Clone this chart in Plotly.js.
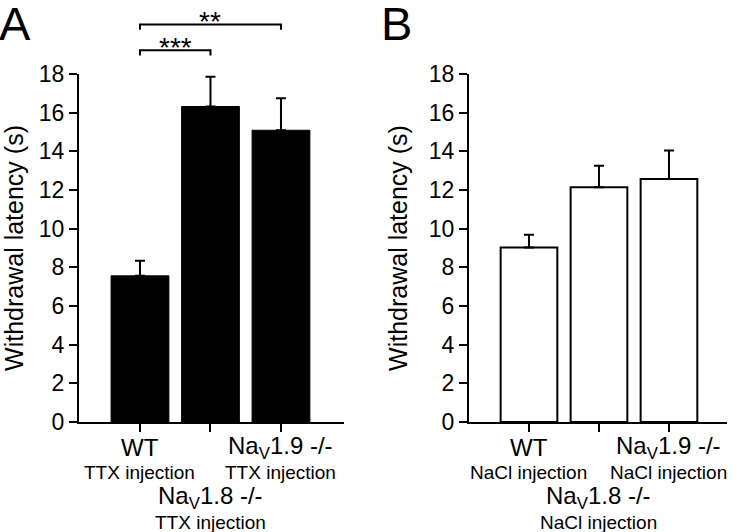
<!DOCTYPE html>
<html>
<head>
<meta charset="utf-8">
<script src="https://cdn.plot.ly/plotly-3.0.1.min.js"></script>
<style>
  html, body { margin: 0; padding: 0; background: #fff; }
  #chart { width: 737px; height: 532px; }
</style>
</head>
<body>
<div id="chart"></div>
<script>
// values (seconds)
const categories = ['WT', 'NaV1.8 -/-', 'NaV1.9 -/-'];
const geneLabels = ['WT', 'Na<sub>V</sub>1.8 -/-', 'Na<sub>V</sub>1.9 -/-'];
const ttxMeans = [7.56, 16.32, 15.09];
const ttxErrors = [0.78, 1.54, 1.65];
const naclMeans = [9.03, 12.14, 12.57];
const naclErrors = [0.66, 1.11, 1.47];
const injections = ['TTX injection', 'NaCl injection'];
const sigPairs = [[0, 1, '***'], [0, 2, '**']];

const font = 'Liberation Sans, Arial, Helvetica, sans-serif';

let trace1 = {
  x: categories,
  y: ttxMeans,
  type: 'bar',
  width: 0.82,
  marker: { color: '#000', line: { color: '#000', width: 1 } },
  error_y: { type: 'data', array: ttxErrors, arrayminus: [0, 0, 0], symmetric: false,
             color: '#000', thickness: 2, width: 5 },
  xaxis: 'x', yaxis: 'y',
  hoverinfo: 'skip'
};

let trace2 = {
  x: categories,
  y: naclMeans,
  type: 'bar',
  width: 0.81,
  marker: { color: '#fff', line: { color: '#000', width: 2 } },
  error_y: { type: 'data', array: naclErrors, arrayminus: [0, 0, 0], symmetric: false,
             color: '#000', thickness: 2, width: 5 },
  xaxis: 'x2', yaxis: 'y2',
  hoverinfo: 'skip'
};

function xAxis(domain, range, anchor) {
  return {
    domain: domain,
    anchor: anchor,
    type: 'category',
    categoryorder: 'array',
    categoryarray: categories,
    range: range,
    showline: true, linecolor: '#000', linewidth: 2,
    ticks: 'outside', ticklen: 8, tickwidth: 2, tickcolor: '#000',
    showticklabels: false,
    showgrid: false, zeroline: false, fixedrange: true
  };
}

function yAxis(anchor) {
  return {
    anchor: anchor,
    range: [0, 18],
    dtick: 2,
    showline: true, linecolor: '#000', linewidth: 2,
    ticks: 'outside', ticklen: 8, tickwidth: 2, tickcolor: '#000',
    tickfont: { family: font, size: 23, color: '#000' },
    showgrid: false, zeroline: false, fixedrange: true,
    title: { text: 'Withdrawal latency (s)', font: { family: font, size: 25, color: '#000' }, standoff: 14 }
  };
}

let annotations = [];
let shapes = [];

// category labels below each panel, middle one staggered onto a second row
[['x', injections[0]], ['x2', injections[1]]].forEach(function (p) {
  categories.forEach(function (c, i) {
    let row = i % 2;
    annotations.push({
      xref: p[0], yref: 'paper', x: c, y: 0, yanchor: 'middle',
      yshift: row ? -75 : -25, showarrow: false,
      text: geneLabels[i], font: { family: font, size: 24, color: '#000' }
    });
    annotations.push({
      xref: p[0], yref: 'paper', x: c, y: 0, yanchor: 'middle',
      yshift: row ? -100 : -50, showarrow: false,
      text: p[1], font: { family: font, size: 19, color: '#000' }
    });
  });
});

// significance brackets over panel A
sigPairs.forEach(function (s, k) {
  let yTop = k === 0 ? 1.0685 : 1.1425;
  let yLeg = yTop - 0.015;
  shapes.push({
    type: 'path', xref: 'x', yref: 'paper',
    path: 'M' + s[0] + ',' + yLeg + ' L' + s[0] + ',' + yTop + ' L' + s[1] + ',' + yTop + ' L' + s[1] + ',' + yLeg,
    line: { color: '#000', width: 2 }
  });
  annotations.push({
    xref: 'x', yref: 'paper', x: (s[0] + s[1]) / 2, y: yTop, yanchor: 'bottom',
    yshift: -15, showarrow: false, text: s[2],
    font: { family: font, size: 28, color: '#000' }
  });
});

// panel letters
[['A', 0], ['B', 382 / 737]].forEach(function (l) {
  annotations.push({
    xref: 'paper', yref: 'paper', x: l[1], y: 422 / 348, xanchor: 'left', yanchor: 'top',
    yshift: 5, xshift: -3, showarrow: false, text: l[0],
    font: { family: font, size: 47, color: '#000' }
  });
});

let layout = {
  width: 737,
  height: 532,
  margin: { l: 0, r: 0, t: 74, b: 110 },
  paper_bgcolor: '#fff',
  plot_bgcolor: '#fff',
  showlegend: false,
  xaxis: xAxis([79 / 737, 344 / 737], [-0.865, 2.894], 'y'),
  yaxis: yAxis('x'),
  xaxis2: xAxis([469 / 737, 727 / 737], [-0.857, 2.829], 'y2'),
  yaxis2: yAxis('x2'),
  annotations: annotations,
  shapes: shapes
};

Plotly.newPlot('chart', [trace1, trace2], layout, { displayModeBar: false, staticPlot: true });
</script>
</body>
</html>
